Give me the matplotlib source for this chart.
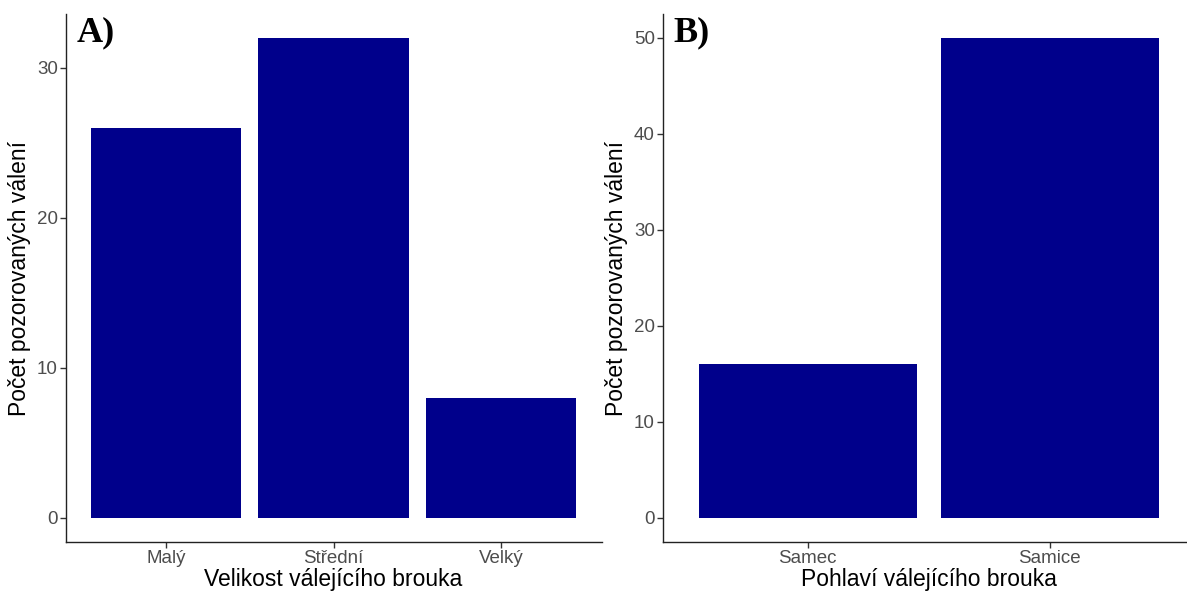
import matplotlib.pyplot as plt
import numpy as np

# data
size_labels = ["Malý", "Střední", "Velký"]
size_counts = [26, 32, 8]
sex_labels = ["Samec", "Samice"]
sex_counts = [16, 50]

bar_color = "#00008B"
W, H = 1187, 592

plt.rcParams["font.family"] = ["Liberation Sans", "DejaVu Sans"]

fig = plt.figure(figsize=(W / 100, H / 100), dpi=100)


def px_axes(x0, x1, y_top, y_bot):
    # axes box given in pixel coordinates of the picture
    return fig.add_axes([x0 / W, (H - y_bot) / H, (x1 - x0) / W, (y_bot - y_top) / H])


def panel(ax, labels, counts, xlabel, letter, yticks):
    x = np.arange(1, len(labels) + 1)
    ax.bar(x, counts, width=0.9, color=bar_color, edgecolor="none")
    ax.set_xlim(0.4, len(labels) + 0.6)
    top = max(counts)
    ax.set_ylim(-0.05 * top, top * 1.05)
    ax.set_xticks(x)
    ax.set_xticklabels(labels)
    ax.set_yticks(yticks)
    for side in ["top", "right"]:
        ax.spines[side].set_visible(False)
    for side in ["left", "bottom"]:
        ax.spines[side].set_color("#222222")
        ax.spines[side].set_linewidth(1.0)
    ax.tick_params(axis="both", length=4, width=1.0, color="#333333",
                   labelcolor="#4D4D4D", labelsize=13.5, pad=1.5)
    ax.set_xlabel(xlabel, fontsize=16.5, color="black", labelpad=1)
    ax.set_ylabel("Počet pozorovaných válení", fontsize=16.5, color="black", labelpad=4)
    ax.text(0.02, 0.995, letter, transform=ax.transAxes, ha="left", va="top",
            fontsize=26, fontweight="bold", family=["Liberation Serif", "DejaVu Serif"])


ax1 = px_axes(65.5, 601.5, 14, 542)
panel(ax1, size_labels, size_counts, "Velikost válejícího brouka", "A)", [0, 10, 20, 30])

ax2 = px_axes(662.5, 1195, 14, 542)
panel(ax2, sex_labels, sex_counts, "Pohlaví válejícího brouka", "B)", [0, 10, 20, 30, 40, 50])

fig.savefig("out.png", dpi=100)
